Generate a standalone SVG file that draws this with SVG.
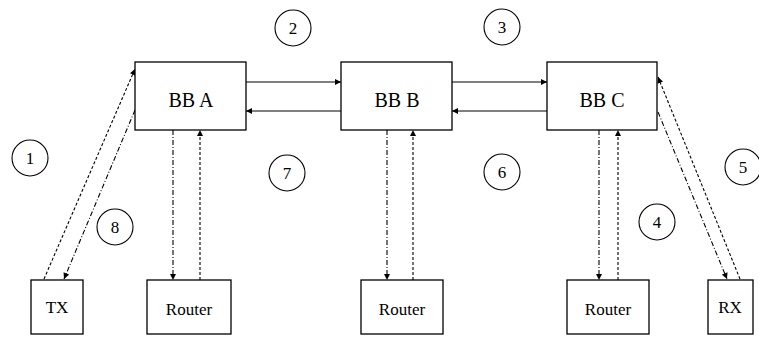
<svg xmlns="http://www.w3.org/2000/svg" width="759" height="339" viewBox="0 0 759 339">
<style>
.box{fill:#fff;stroke:#000;stroke-width:1.3}
.lbl{font-family:"Liberation Serif",serif;fill:#000;text-anchor:middle}
.big{font-size:20px}
.sm{font-size:17px}
.num{font-size:17px}
.circ{fill:none;stroke:#000;stroke-width:1.1}
.solid{stroke:#000;stroke-width:1.1;fill:none}
.dd{stroke:#000;stroke-width:1.1;fill:none;stroke-dasharray:5,2,1,2}
.ds{stroke:#000;stroke-width:1.1;fill:none;stroke-dasharray:3,2}
</style>
<defs>
<marker id="ah" viewBox="0 0 10 10" refX="10" refY="5" markerWidth="8" markerHeight="6" markerUnits="userSpaceOnUse" orient="auto">
<path d="M0,0 L10,5 L0,10 z" fill="#000"/>
</marker>
</defs>
<rect width="759" height="339" fill="#fff"/>
<g id="connectors">
<line class="solid" x1="246" y1="82" x2="341" y2="82" marker-end="url(#ah)"/>
<line class="solid" x1="341" y1="111" x2="246" y2="111" marker-end="url(#ah)"/>
<line class="solid" x1="452" y1="82" x2="547" y2="82" marker-end="url(#ah)"/>
<line class="solid" x1="547" y1="111" x2="452" y2="111" marker-end="url(#ah)"/>
<line class="dd" x1="173" y1="130" x2="173" y2="280" marker-end="url(#ah)"/>
<line class="ds" x1="200" y1="280" x2="200" y2="130" marker-end="url(#ah)"/>
<line class="dd" x1="387" y1="130" x2="387" y2="280" marker-end="url(#ah)"/>
<line class="ds" x1="413" y1="280" x2="413" y2="130" marker-end="url(#ah)"/>
<line class="dd" x1="599" y1="130" x2="599" y2="280" marker-end="url(#ah)"/>
<line class="ds" x1="618" y1="280" x2="618" y2="130" marker-end="url(#ah)"/>
<line class="ds" x1="44" y1="279" x2="135" y2="69" marker-end="url(#ah)"/>
<line class="dd" x1="135" y1="110" x2="64" y2="279" marker-end="url(#ah)"/>
<line class="ds" x1="740" y1="279" x2="658" y2="77" marker-end="url(#ah)"/>
<line class="dd" x1="658" y1="112" x2="727" y2="279" marker-end="url(#ah)"/>
</g>
<g id="bba"><rect class="box" x="135" y="62" width="111" height="68"/><text class="lbl big" x="191" y="107">BB A</text></g>
<g id="bbb"><rect class="box" x="341" y="62" width="111" height="68"/><text class="lbl big" x="397" y="107">BB B</text></g>
<g id="bbc"><rect class="box" x="547" y="62" width="110" height="68"/><text class="lbl big" x="602" y="107">BB C</text></g>
<g id="tx"><rect class="box" x="31" y="280" width="52" height="54"/><text class="lbl sm" x="57" y="313">TX</text></g>
<g id="routerA"><rect class="box" x="147" y="280" width="84" height="54"/><text class="lbl sm" x="189" y="315">Router</text></g>
<g id="routerB"><rect class="box" x="361" y="280" width="82" height="54"/><text class="lbl sm" x="402" y="315">Router</text></g>
<g id="routerC"><rect class="box" x="567" y="280" width="82" height="54"/><text class="lbl sm" x="608" y="315">Router</text></g>
<g id="rx"><rect class="box" x="708" y="280" width="45" height="54"/><text class="lbl sm" x="730" y="313">RX</text></g>
<g id="c1"><circle class="circ" cx="30" cy="158" r="18"/><text class="lbl num" x="30" y="164">1</text></g>
<g id="c2"><circle class="circ" cx="293" cy="28" r="18"/><text class="lbl num" x="293" y="34">2</text></g>
<g id="c3"><circle class="circ" cx="502" cy="27" r="18"/><text class="lbl num" x="502" y="33">3</text></g>
<g id="c4"><circle class="circ" cx="657" cy="222" r="18"/><text class="lbl num" x="657" y="228">4</text></g>
<g id="c5"><circle class="circ" cx="743" cy="167" r="18"/><text class="lbl num" x="743" y="173">5</text></g>
<g id="c6"><circle class="circ" cx="502" cy="172" r="18"/><text class="lbl num" x="502" y="178">6</text></g>
<g id="c7"><circle class="circ" cx="287" cy="173" r="18"/><text class="lbl num" x="287" y="179">7</text></g>
<g id="c8"><circle class="circ" cx="115" cy="227" r="18"/><text class="lbl num" x="115" y="233">8</text></g>
</svg>
